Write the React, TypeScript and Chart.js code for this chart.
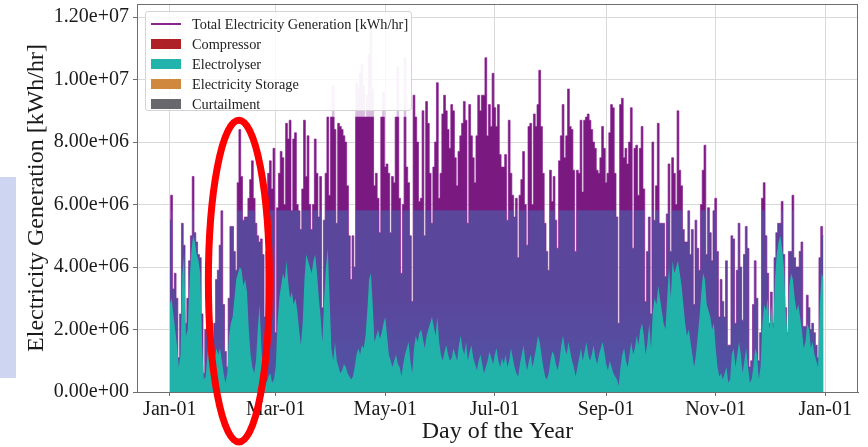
import React, { useEffect, useRef } from "react";
import { Chart, registerables } from "chart.js";

Chart.register(...registerables);

// ---- data (values in units of 1e5 kWh/hr, one value per day of the year) ----
const UNIT = 1e5;

const totalGeneration = [
  55, 63, 33, 38, 30, 11, 25, 54, 47, 22,
  30, 42, 50, 69, 51, 48, 44, 43, 25, 6,
  20, 34, 34, 20, 17, 22, 36, 39, 47, 58,
  28, 13, 8, 30, 53, 53, 45, 39, 67, 84,
  69, 55, 56, 56, 62, 68, 74, 62, 54, 50,
  48, 49, 44, 24, 45, 70, 74, 65, 78, 19,
  59, 70, 77, 75, 60, 86, 81, 87, 58, 81,
  83, 60, 58, 52, 65, 87, 69, 82, 60, 52,
  60, 81, 70, 56, 69, 27, 55, 70, 88, 63,
  88, 88, 84, 54, 86, 85, 84, 82, 80, 66,
  50, 36, 50, 40, 88, 88, 88, 88, 88, 88,
  88, 88, 88, 88, 66, 70, 62, 51, 88, 88,
  72, 73, 70, 51, 69, 67, 88, 88, 62, 38,
  60, 88, 72, 67, 50, 29, 95, 88, 80, 61,
  62, 90, 50, 93, 86, 70, 54, 72, 80, 99,
  62, 70, 89, 95, 90, 84, 78, 92, 90, 75,
  66, 77, 82, 86, 93, 87, 54, 92, 82, 75,
  67, 82, 95, 90, 95, 95, 107, 82, 92, 85,
  102, 91, 85, 92, 76, 72, 72, 76, 55, 87,
  70, 63, 56, 62, 43, 63, 68, 77, 60, 47,
  85, 86, 60, 89, 85, 92, 103, 85, 70, 54,
  45, 39, 71, 61, 69, 55, 46, 74, 82, 92,
  75, 82, 97, 85, 84, 71, 45, 71, 70, 87,
  64, 87, 88, 89, 87, 84, 80, 78, 71, 70,
  75, 85, 78, 67, 70, 83, 92, 91, 70, 56,
  22, 92, 94, 75, 78, 73, 80, 91, 46, 78,
  79, 63, 78, 85, 65, 29, 45, 56, 25, 80,
  55, 66, 86, 54, 54, 54, 37, 57, 73, 45,
  75, 70, 60, 90, 71, 66, 52, 48, 48, 58,
  44, 52, 28, 55, 46, 39, 60, 71, 79, 44,
  59, 51, 42, 58, 62, 45, 24, 36, 29, 24,
  42, 15, 15, 50, 49, 22, 39, 54, 40, 23,
  44, 53, 46, 8, 10, 28, 42, 30, 10, 19,
  62, 67, 50, 38, 22, 32, 22, 43, 51, 54,
  54, 61, 44, 27, 19, 45, 45, 63, 43, 40,
  40, 45, 48, 21, 21, 31, 27, 20, 22, 19,
  15, 11, 43, 53, 50,
];

const electrolyserLoad = [
  28, 30, 25, 20, 15, 8, 12, 38, 44, 18,
  20, 35, 45, 50, 48, 44, 42, 38, 15, 4,
  5, 12, 16, 8, 5, 10, 14, 12, 14, 10,
  6, 3, 6, 18, 22, 24, 30, 36, 38, 40,
  39, 34, 36, 32, 20, 12, 8, 6, 10, 20,
  28, 14, 6, 4, 3, 5, 6, 3, 4, 8,
  22, 30, 34, 38, 36, 42, 35, 30, 32, 28,
  30, 26, 20, 15, 22, 36, 44, 42, 40, 38,
  42, 44, 38, 30, 24, 16, 30, 40, 46, 30,
  14, 10, 16, 10, 8, 6, 7, 9, 8, 6,
  5, 4, 5, 8, 12, 14, 12, 15, 14, 18,
  26, 36, 38, 28, 16, 18, 20, 17, 19, 22,
  24, 18, 12, 10, 8, 10, 12, 9, 8, 5,
  9, 12, 14, 16, 10, 6, 14, 18, 16, 19,
  20, 17, 14, 18, 20, 22, 24, 21, 18, 24,
  16, 12, 10, 13, 15, 12, 10, 11, 14, 12,
  10, 15, 18, 14, 12, 16, 10, 13, 15, 11,
  9, 7, 10, 12, 9, 6, 8, 10, 13, 11,
  9, 12, 14, 10, 8, 11, 9, 12, 8, 10,
  14, 11, 8, 6, 5, 9, 12, 15, 10, 7,
  10, 12, 8, 11, 14, 18, 16, 12, 8, 5,
  4, 6, 10, 13, 12, 9, 7, 10, 15, 18,
  14, 12, 16, 13, 10, 8, 5, 8, 11, 14,
  10, 13, 16, 12, 10, 12, 15, 11, 9, 12,
  14, 16, 13, 9, 7, 10, 8, 6, 5, 4,
  2, 8, 12, 14, 10, 8, 12, 16, 12, 14,
  18, 15, 20, 22, 18, 12, 16, 22, 14, 26,
  30, 28, 34, 30, 26, 22, 20, 30, 40, 30,
  42, 38, 40, 42, 38, 34, 28, 22, 18, 20,
  16, 12, 8, 12, 18, 24, 32, 38, 36, 28,
  26, 24, 20, 22, 14, 8, 5, 6, 4, 6,
  8, 3, 4, 12, 14, 8, 12, 16, 12, 6,
  10, 14, 8, 3, 4, 8, 14, 12, 4, 8,
  22, 28, 26, 30, 20, 28, 20, 36, 44, 48,
  50, 46, 40, 26, 18, 34, 38, 36, 30, 26,
  28, 24, 20, 14, 16, 22, 20, 14, 16, 12,
  10, 8, 28, 38, 36,
];

// pale peaks above the flat April/May ceiling
const paleSpikeDays = [91, 104, 105, 106, 107, 108, 110, 111, 112, 113, 119, 127, 131];
const paleSpikeValues = [98, 99, 97, 102, 105, 98, 95, 108, 116, 97, 96, 104, 107];

const BAND_LEVEL = 5.8e6;

const xTickDays = [0, 59, 120, 181, 243, 304, 365];
const xTickLabels = ["Jan-01", "Mar-01", "May-01", "Jul-01", "Sep-01", "Nov-01", "Jan-01"];
const yTickValues = [0, 2e6, 4e6, 6e6, 8e6, 1e7, 1.2e7];
const yTickLabels = ["0.00e+00", "2.00e+06", "4.00e+06", "6.00e+06", "8.00e+06", "1.00e+07", "1.20e+07"];

const legendLabels = [
  "Total Electricity Generation [kWh/hr]",
  "Compressor",
  "Electrolyser",
  "Electricity Storage",
  "Curtailment",
];
const legendColors = ["#8a2490", "#ad2127", "#22b4aa", "#d0883e", "#68686c"];

// annotation ellipse (in data units)
const ellipseCenterDay = 38.5;
const ellipseCenterValue = 3.55e6;
const ellipseHalfDays = 17;
const ellipseHalfValue = 5.15e6;

const SERIF = '"Liberation Serif", "Times New Roman", serif';
const LOW_BAND = "#5a479c";
const HIGH_BAND = "#7a1a80";

export default function App() {
  const canvasRef = useRef<HTMLCanvasElement>(null);

  useEffect(() => {
    document.body.style.margin = "0";
    const canvas = canvasRef.current;
    if (!canvas) return;

    const totalPts = totalGeneration.map((v, i) => ({ x: i, y: v * UNIT }));
    const elecPts = electrolyserLoad.map((v, i) => ({ x: i, y: v * UNIT }));
    const palePts = paleSpikeDays.map((d, i) => ({ x: d, y: paleSpikeValues[i] * UNIT }));

    const bandFill = (ctx: any) => {
      const chart = ctx.chart;
      const area = chart.chartArea;
      if (!area || !chart.scales.y) return LOW_BAND;
      const ys = chart.scales.y;
      const y0 = ys.getPixelForValue(0);
      const yb = ys.getPixelForValue(BAND_LEVEL);
      const g = chart.ctx.createLinearGradient(0, y0, 0, area.top);
      const t = (y0 - yb) / (y0 - area.top);
      g.addColorStop(0, "#4f55a6");
      g.addColorStop(t * 0.5, LOW_BAND);
      g.addColorStop(t, LOW_BAND);
      g.addColorStop(Math.min(1, t + 0.002), HIGH_BAND);
      g.addColorStop(1, HIGH_BAND);
      return g;
    };

    const overlay = {
      id: "overlay",
      afterDraw(chart: any) {
        const { ctx, chartArea, scales } = chart;
        ctx.save();
        ctx.strokeStyle = "#6e6e6e";
        ctx.lineWidth = 1;
        ctx.beginPath();
        ctx.moveTo(chartArea.left, chartArea.top + 0.5);
        ctx.lineTo(chartArea.right, chartArea.top + 0.5);
        ctx.moveTo(chartArea.right - 0.5, chartArea.top);
        ctx.lineTo(chartArea.right - 0.5, chartArea.bottom);
        ctx.stroke();

        const cx = scales.x.getPixelForValue(ellipseCenterDay);
        const cy = scales.y.getPixelForValue(ellipseCenterValue);
        const rx = Math.abs(scales.x.getPixelForValue(ellipseCenterDay + ellipseHalfDays) - cx);
        const ry = Math.abs(scales.y.getPixelForValue(ellipseCenterValue + ellipseHalfValue) - cy);
        ctx.beginPath();
        ctx.ellipse(cx, cy, rx, ry, 0, 0, Math.PI * 2);
        ctx.strokeStyle = "#ff0000";
        ctx.lineWidth = 7;
        ctx.stroke();
        ctx.restore();
      },
    };

    const chart = new Chart(canvas, {
      type: "line",
      data: {
        datasets: [
          {
            type: "line",
            label: "Electrolyser",
            data: elecPts,
            borderColor: "transparent",
            borderWidth: 0,
            pointRadius: 0,
            fill: "origin",
            backgroundColor: "#21b2a9",
            tension: 0,
            order: 0,
          },
          {
            type: "line",
            label: "Total Electricity Generation [kWh/hr]",
            data: totalPts,
            stepped: "middle",
            borderColor: "#8a1f92",
            borderWidth: 0.7,
            pointRadius: 0,
            fill: "origin",
            backgroundColor: bandFill,
            order: 1,
          },
          {
            type: "bar",
            label: "peaks",
            data: palePts,
            backgroundColor: "rgba(214,184,222,0.9)",
            barThickness: 2,
            order: 2,
          },
        ] as any,
      },
      options: {
        animation: false,
        responsive: false,
        devicePixelRatio: 1,
        events: [],
        layout: { padding: { left: 20, right: 10, top: 4, bottom: 0 } },
        plugins: { legend: { display: false }, tooltip: { enabled: false } },
        scales: {
          x: {
            type: "linear",
            offset: false,
            min: -18.25,
            max: 383.25,
            afterBuildTicks: (s: any) => {
              s.ticks = xTickDays.map((v) => ({ value: v }));
            },
            afterFit: (s: any) => {
              s.height = 55;
              s.paddingLeft = 0;
              s.paddingRight = 0;
            },
            ticks: {
              autoSkip: false,
              maxRotation: 0,
              padding: 2,
              color: "#1a1a1a",
              font: { family: SERIF, size: 20 },
              callback: (v: any) => {
                const i = xTickDays.indexOf(Number(v));
                return i >= 0 ? xTickLabels[i] : "";
              },
            },
            grid: { offset: false, color: "#d9d9d9", tickColor: "#6e6e6e", tickLength: 4, lineWidth: 1 },
            border: { color: "#6e6e6e", width: 1 },
            title: {
              display: true,
              text: "Day of the Year",
              color: "#1a1a1a",
              font: { family: SERIF, size: 24 },
              padding: { top: 0, bottom: 1 },
            },
          },
          y: {
            type: "linear",
            min: 0,
            max: 1.242e7,
            afterBuildTicks: (s: any) => {
              s.ticks = yTickValues.map((v) => ({ value: v }));
            },
            afterFit: (s: any) => {
              s.width = 117;
              s.paddingTop = 0;
              s.paddingBottom = 0;
            },
            ticks: {
              padding: 4,
              color: "#1a1a1a",
              font: { family: SERIF, size: 20 },
              callback: (v: any) => {
                const i = yTickValues.indexOf(Number(v));
                return i >= 0 ? yTickLabels[i] : "";
              },
            },
            grid: { color: "#d9d9d9", tickColor: "#6e6e6e", tickLength: 4, lineWidth: 1 },
            border: { color: "#6e6e6e", width: 1 },
            title: {
              display: true,
              text: "Electricity Generation [kWh/hr]",
              color: "#1a1a1a",
              font: { family: SERIF, size: 24 },
              padding: { top: 2, bottom: 0 },
            },
          },
        },
      },
      plugins: [overlay],
    } as any);

    return () => chart.destroy();
  }, []);

  return (
    <div style={{ position: "relative", width: 868, height: 447, overflow: "hidden", background: "#fff" }}>
      <div
        style={{
          position: "absolute",
          left: 0,
          top: 177,
          width: 16,
          height: 201,
          background: "#cdd5f1",
        }}
      />
      <canvas ref={canvasRef} width={868} height={447} style={{ position: "absolute", left: 0, top: 0 }} />
      <div
        style={{
          position: "absolute",
          left: 145,
          top: 11,
          width: 267,
          height: 100,
          boxSizing: "border-box",
          background: "rgba(255,255,255,0.82)",
          border: "1px solid #d4d4d4",
          borderRadius: 3,
          fontFamily: SERIF,
          fontSize: 14.3,
          color: "#222",
        }}
      >
        {legendLabels.map((label, i) => (
          <div
            key={label}
            style={{
              position: "absolute",
              left: 0,
              top: 2 + i * 20,
              height: 20,
              width: "100%",
              display: "flex",
              alignItems: "center",
            }}
          >
            <div style={{ width: 30, marginLeft: 5, display: "flex", alignItems: "center", justifyContent: "center" }}>
              {i === 0 ? (
                <div style={{ width: 30, height: 1.5, background: legendColors[i] }} />
              ) : (
                <div style={{ width: 30, height: 10, background: legendColors[i] }} />
              )}
            </div>
            <span style={{ marginLeft: 11, whiteSpace: "nowrap" }}>{label}</span>
          </div>
        ))}
      </div>
    </div>
  );
}
